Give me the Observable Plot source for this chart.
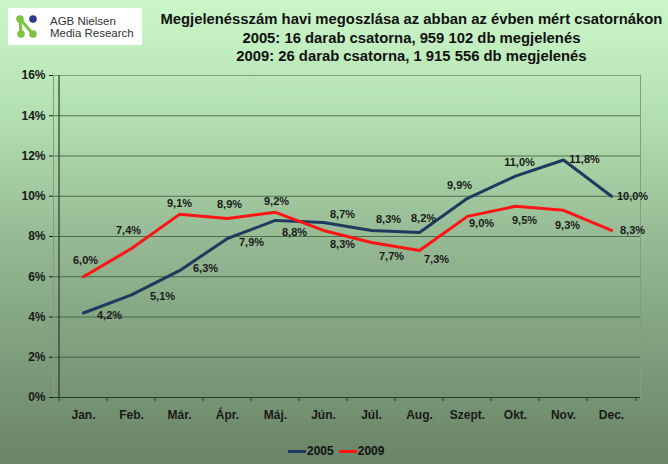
<!DOCTYPE html>
<html><head><meta charset="utf-8">
<script src="https://cdn.jsdelivr.net/npm/d3@7"></script>
<script src="https://cdn.jsdelivr.net/npm/@observablehq/plot@0.6"></script>
<style>
body{margin:0;background:#fff;}
#wrap{position:relative;width:668px;height:464px;overflow:hidden;
  background:linear-gradient(to bottom,#cbf7c9 0%,#b3e0b1 25%,#92b590 55%,#698466 100%);
  font-family:"Liberation Sans",Arial,sans-serif;}
#chart{position:absolute;left:0;top:0;}
#logo{position:absolute;left:8px;top:8px;width:134px;height:37px;background:#fff;}
#logo .t{position:absolute;left:42px;font-size:11.5px;color:#333;line-height:11px;white-space:nowrap;}
#title{position:absolute;left:160px;top:10px;width:502px;display:flex;flex-direction:column;align-items:center;}
#title .inner{display:flex;flex-direction:column;align-items:center;transform-origin:center top;}
#title .l{font-size:14.5px;font-weight:bold;color:#111;line-height:18.5px;white-space:nowrap;}
#legend{position:absolute;left:288px;top:444px;height:14px;display:flex;align-items:center;font-size:12px;font-weight:bold;color:#111;}
#legend .sw{display:inline-block;width:18px;height:3px;margin-right:1px;}
</style></head><body>
<div id="wrap">
  <div id="chart"></div>
  <div id="logo">
    <svg width="40" height="37" style="position:absolute;left:0;top:0">
      <line x1="12" y1="11" x2="13" y2="26" stroke="#7dc242" stroke-width="3"/>
      <line x1="12" y1="11" x2="25" y2="26" stroke="#7dc242" stroke-width="3"/>
      <circle cx="12" cy="11" r="3.8" fill="#7dc242"/>
      <circle cx="25" cy="11" r="3.8" fill="#2b3990"/>
      <circle cx="13" cy="26" r="3.8" fill="#7dc242"/>
      <circle cx="25" cy="26" r="3.8" fill="#7dc242"/>
    </svg>
    <div class="t" style="top:8px">AGB Nielsen</div>
    <div class="t" style="top:20px">Media Research</div>
  </div>
  <div id="title"><div class="inner" id="titleInner">
    <div class="l" id="t1">Megjelenésszám havi megoszlása az abban az évben mért csatornákon</div>
    <div class="l">2005: 16 darab csatorna, 959 102 db megjelenés</div>
    <div class="l">2009: 26 darab csatorna, 1 915 556 db megjelenés</div>
  </div></div>
  <div id="legend">
    <span class="sw" style="background:#1f3a5f"></span><span>2005</span>
    <span class="sw" style="background:#ff1414;margin-left:5px"></span><span>2009</span>
  </div>
</div>
<script>
const months = ["Jan.","Feb.","Már.","Ápr.","Máj.","Jún.","Júl.","Aug.","Szept.","Okt.","Nov.","Dec."];
const seriesNames = ["2005","2009"];
const values2005 = [4.2,5.1,6.3,7.9,8.8,8.7,8.3,8.2,9.9,11.0,11.8,10.0];
const values2009 = [6.0,7.4,9.1,8.9,9.2,8.3,7.7,7.3,9.0,9.5,9.3,8.3];
const yTicks = [0,2,4,6,8,10,12,14,16];
const seriesColors = ["#1f3a5f","#ff1414"];
// label offsets (pixels) relative to each point
const labelOffsets2005 = [[26,2],[31,2],[26,-2],[24,4],[19,12],[19,-8],[17,-11],[4,-14],[-8,-13],[4,-14],[21,-1],[21,0]];
const labelOffsets2009 = [[2,-16],[-3,-18],[0,-11],[2,-14],[1,-11],[19,14],[20,14],[17,9],[14,7],[9,14],[4,15],[21,0]];

const W = 668, H = 464, mL = 53, mR = 28, mT = 75, mB = 67;
const step = (W - mL - mR) / months.length;

const rows = [];
months.forEach((m,i) => {
  rows.push({month:m, series:"2005", value:values2005[i], off:labelOffsets2005[i]});
  rows.push({month:m, series:"2009", value:values2009[i], off:labelOffsets2009[i]});
});
const fmt = v => v.toFixed(1).replace(".", ",") + "%";

const labelMarks = rows.map(d => Plot.text([d], {
  x:"month", y:"value", text: r => fmt(r.value),
  dx: d.off[0], dy: d.off[1], fontSize: 11, fontWeight: "bold", fill: "#1a1a1a"
}));

const chart = Plot.plot({
  width: W, height: H,
  marginLeft: mL, marginRight: mR, marginTop: mT, marginBottom: mB,
  style: {background:"transparent", fontFamily:"'Liberation Sans', Arial, sans-serif", fontSize:"12px", fontWeight:"bold", color:"#1a1a1a"},
  x: {type:"point", domain: months, padding: 0.5, label: null, tickSize: 0, tickPadding: 13},
  y: {domain:[0,16], ticks: yTicks, tickFormat: d => d + "%", tickSize: 4, tickPadding: 4, label: null},
  color: {domain: seriesNames, range: seriesColors},
  marks: [
    Plot.ruleY(yTicks.filter(t => t > 0 && t < 16), {stroke:"#3e5e3e", strokeWidth:1, strokeOpacity:0.85}),
    Plot.frame({stroke:"#7f9f7f"}),
    Plot.ruleY([0], {stroke:"#2a3a2a", strokeWidth:1.2}),
    Plot.ruleX([months[0]], {dx: -step/2, y1: 0, y2: 16, stroke:"#2a3a2a", strokeWidth:1.2}),
    Plot.ruleX(months, {dx: -step/2, y1: 0, y2: -0.2, stroke:"#2a3a2a"}),
    Plot.ruleX([months[months.length-1]], {dx: step/2, y1: 0, y2: -0.2, stroke:"#2a3a2a"}),
    Plot.line(rows, {x:"month", y:"value", z:"series", stroke:"series", strokeWidth:3, strokeLinejoin:"round", strokeLinecap:"round"}),
    ...labelMarks
  ]
});
document.getElementById("chart").appendChild(chart);

// fit title width to the reference
const t1 = document.getElementById("t1");
const w = t1.getBoundingClientRect().width;
const s = 502 / w;
document.getElementById("titleInner").style.transform = `scaleX(${s})`;
</script>
</body></html>
